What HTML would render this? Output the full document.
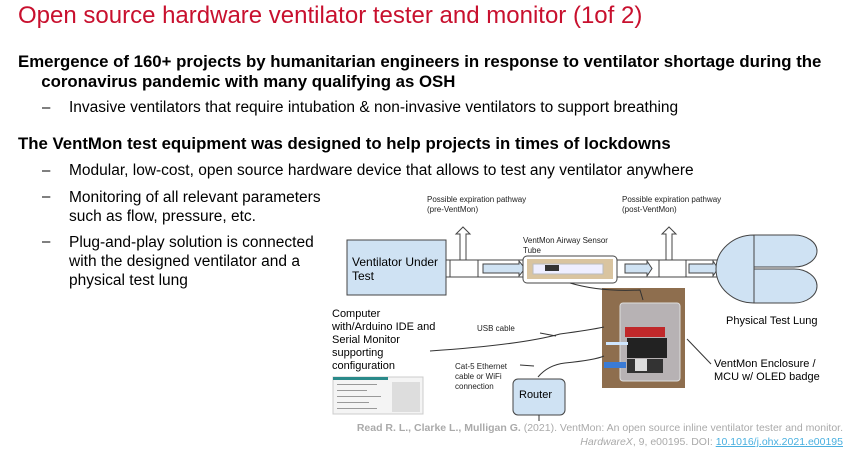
<!DOCTYPE html>
<html><head><meta charset="utf-8"><style>
body{margin:0;width:855px;height:454px;background:#fff;position:relative;overflow:hidden;font-family:"Liberation Sans",sans-serif;color:#000}
.a{position:absolute;white-space:nowrap}
.t{font-size:24px;color:#c8102e;left:18px;top:2px}
.b{font-size:16.8px;font-weight:bold}
.s{font-size:15.5px}
.d{font-size:15px;font-weight:normal}
.sm{font-size:8px;color:#222;line-height:10px}
.m{font-size:11px;line-height:13px}
</style></head><body>
<div class="a t">Open source hardware ventilator tester and monitor (1of 2)</div>
<div class="a b" style="left:18px;top:52px;line-height:20px">Emergence of 160+ projects by humanitarian engineers in response to ventilator shortage during the<br>&nbsp;&nbsp;&nbsp;&nbsp;&nbsp;coronavirus pandemic with many qualifying as OSH</div>
<div class="a d" style="left:42px;top:99px">–</div><div class="a s" style="left:69px;top:99px">Invasive ventilators that require intubation &amp; non-invasive ventilators to support breathing</div>
<div class="a b" style="left:18px;top:134px">The VentMon test equipment was designed to help projects in times of lockdowns</div>
<div class="a d" style="left:42px;top:162px">–</div><div class="a s" style="left:69px;top:162px">Modular, low-cost, open source hardware device that allows to test any ventilator anywhere</div>
<div class="a d" style="left:42px;top:188px">–</div><div class="a s" style="left:69px;top:188px;line-height:19px">Monitoring of all relevant parameters<br>such as flow, pressure, etc.</div>
<div class="a d" style="left:42px;top:233px">–</div><div class="a s" style="left:69px;top:233px;line-height:19px">Plug-and-play solution is connected<br>with the designed ventilator and a<br>physical test lung</div>

<svg class="a" style="left:0;top:0" width="855" height="454">
<g stroke="#444" stroke-width="1" fill="#cfe2f3">
<rect x="347" y="240" width="99" height="55"/>
<rect x="446" y="260" width="274" height="17" fill="#fff"/>
<line x1="450" y1="260" x2="450" y2="277"/><line x1="478" y1="260" x2="478" y2="277"/>
<line x1="659" y1="260" x2="659" y2="277"/><line x1="686" y1="260" x2="686" y2="277"/>
<path d="M483 264h36v-3l6 7.5-6 7.5v-3h-36z"/>
<path d="M625 264h22v-3l5 7.5-5 7.5v-3h-22z"/>
<path d="M689 264h24v-3l5 7.5-5 7.5v-3h-24z"/>
<path d="M460 260v-26h-4l7-7 7 7h-4v26z" fill="#fff"/>
<path d="M666 260v-26h-4l7-7 7 7h-4v26z" fill="#fff"/>
<path d="M754 235h40a23 16 0 0 1 0 32h-40v-32z M754 269h40a23 17 0 0 1 0 34h-40v-34z" />
<path d="M754 235a38 34 0 0 0 0 68z"/>
<rect x="523" y="256" width="94" height="27" rx="4" fill="#fff"/>
<rect x="513" y="379" width="52" height="36" rx="5"/>
</g>
<rect x="527" y="259" width="86" height="20" fill="#d9c4a0"/>
<rect x="533" y="264" width="70" height="10" fill="#eef" stroke="#bbb"/>
<rect x="545" y="265" width="14" height="6" fill="#333"/>
<rect x="602" y="288" width="83" height="100" fill="#8e6e4e"/>
<rect x="620" y="303" width="60" height="78" rx="3" fill="#b7b2b4" stroke="#ddd"/>
<rect x="625" y="327" width="40" height="10" fill="#c0282a"/>
<rect x="627" y="338" width="40" height="20" fill="#222"/>
<rect x="627" y="359" width="36" height="14" fill="#333"/>
<rect x="635" y="359" width="12" height="12" fill="#ddd"/>
<rect x="604" y="362" width="22" height="6" fill="#3a7bd5"/>
<rect x="606" y="342" width="22" height="3" fill="#cfe6ff"/>
<g stroke="#333" fill="none" stroke-width="1">
<path d="M570 283 Q600 292 640 290 L643 300"/>
<path d="M430 351 Q520 345 560 334 Q590 330 604 327"/>
<path d="M540 333 l16 3"/>
<path d="M538 377 Q548 365 565 363 Q595 360 604 356"/>
<path d="M520 365 l14 1"/>
<path d="M711 364 l-24 -25"/>
<path d="M539 415v6"/>
</g>
<rect x="333" y="377" width="90" height="37" fill="#f4f4f4" stroke="#ccc"/>
<rect x="333" y="377" width="55" height="3" fill="#2a8a8a"/>
<g fill="#999"><rect x="337" y="384" width="40" height="1"/><rect x="337" y="390" width="30" height="1"/><rect x="337" y="396" width="44" height="1"/><rect x="337" y="402" width="32" height="1"/><rect x="337" y="408" width="40" height="1"/>
<rect x="392" y="382" width="28" height="30" fill="#ddd"/></g>
</svg>

<div class="a sm" style="left:427px;top:195px">Possible expiration pathway<br>(pre-VentMon)</div>
<div class="a sm" style="left:622px;top:195px">Possible expiration pathway<br>(post-VentMon)</div>
<div class="a sm" style="left:523px;top:236px">VentMon Airway Sensor<br>Tube</div>
<div class="a" style="left:352px;top:255px;font-size:12px;line-height:14px">Ventilator Under<br>Test</div>
<div class="a m" style="left:332px;top:308px">Computer<br>with/Arduino IDE and<br>Serial Monitor<br>supporting<br>configuration</div>
<div class="a sm" style="left:477px;top:324px">USB cable</div>
<div class="a sm" style="left:455px;top:362px">Cat-5 Ethernet<br>cable or WiFi<br>connection</div>
<div class="a" style="left:519px;top:389px;font-size:11px">Router</div>
<div class="a m" style="left:726px;top:315px">Physical Test Lung</div>
<div class="a m" style="left:714px;top:358px">VentMon Enclosure /<br>MCU w/ OLED badge</div>
<div class="a" style="right:12px;top:421px;font-size:10.5px;color:#aaa;text-align:right;line-height:14px"><b>Read R. L., Clarke L., Mulligan G.</b> (2021). VentMon: An open source inline ventilator tester and monitor.<br><i>HardwareX</i>, 9, e00195. DOI: <span style="color:#4ab0e0;text-decoration:underline">10.1016/j.ohx.2021.e00195</span></div>
</body></html>
